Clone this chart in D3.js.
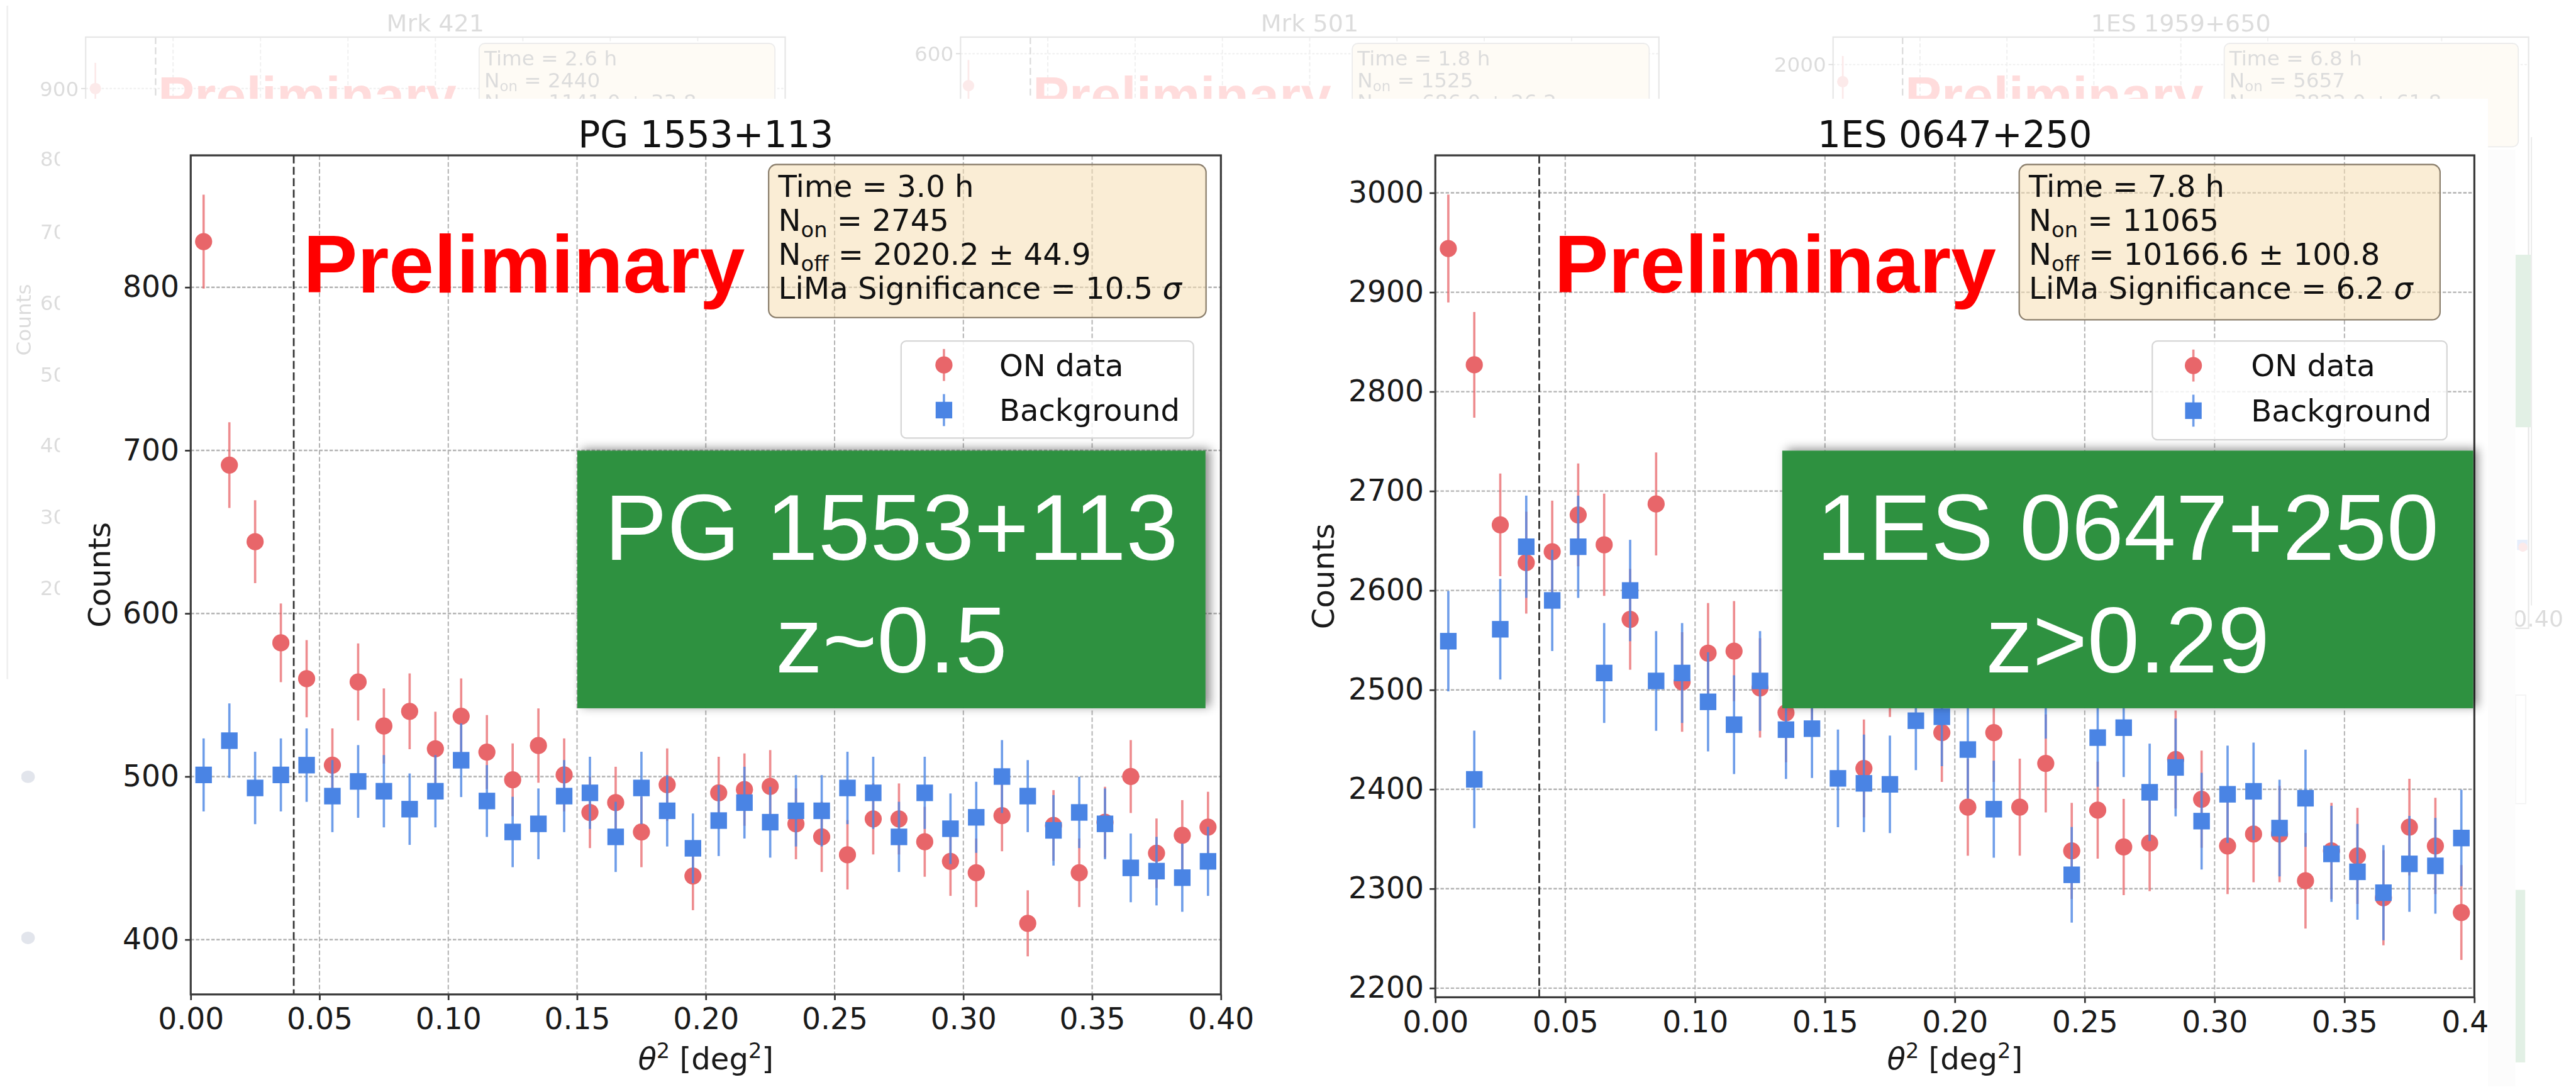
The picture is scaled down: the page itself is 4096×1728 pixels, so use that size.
<!DOCTYPE html>
<html><head><meta charset="utf-8">
<script src="https://cdn.jsdelivr.net/npm/d3@7"></script>
<style>html,body{margin:0;padding:0;background:#fff;overflow:hidden}</style>
</head><body>
<svg id="chart" width="4096" height="1728"></svg>
<script>
// ---------------- data ----------------
const thetaBins = [0.005,0.015,0.025,0.035,0.045,0.055,0.065,0.075,0.085,0.095,0.105,0.115,0.125,0.135,0.145,0.155,0.165,0.175,0.185,0.195,0.205,0.215,0.225,0.235,0.245,0.255,0.265,0.275,0.285,0.295,0.305,0.315,0.325,0.335,0.345,0.355,0.365,0.375,0.385,0.395];
const xTickValues = [0,0.05,0.10,0.15,0.20,0.25,0.30,0.35,0.40];
const pgYTicks = [400,500,600,700,800];
const esYTicks = [2200,2300,2400,2500,2600,2700,2800,2900,3000];

const pgOn  = [828,691,644,582,560,507,558,531,540,517,537,515,498,519,501,478,484,466,495,439,490,492,494,471,463,452,474,474,460,448,441,476,410,470,441,472,500,453,464,469];
const pgOff = [501,522,493,501,507,488,497,491,480,491,510,485,466,471,488,490,463,493,479,456,473,484,472,479,479,493,490,463,490,468,475,500,488,467,478,471,444,442,438,448];
const esOn  = [2944,2827,2666,2628,2639,2676,2646,2571,2687,2508,2537,2539,2502,2477,2520,2545,2421,2523,2540,2457,2382,2457,2382,2426,2338,2379,2342,2346,2430,2390,2343,2355,2355,2308,2338,2333,2291,2362,2343,2276];
const esOff = [2549,2410,2561,2644,2590,2644,2517,2600,2509,2517,2488,2465,2509,2460,2461,2411,2406,2405,2469,2473,2440,2380,2540,2501,2314,2452,2462,2397,2422,2368,2395,2398,2361,2391,2335,2317,2296,2325,2323,2351];

const pgTitle = "PG 1553+113";
const esTitle = "1ES 0647+250";
const pgInfo = ["Time = 3.0 h","N_on = 2745","N_off = 2020.2 ± 44.9","LiMa Significance = 10.5 σ"];
const esInfo = ["Time = 7.8 h","N_on = 11065","N_off = 10166.6 ± 100.8","LiMa Significance = 6.2 σ"];
const pgBadge = ["PG 1553+113","z~0.5"];
const esBadge = ["1ES 0647+250","z>0.29"];
const legendLabels = ["ON data","Background"];

const fadedTitles = ["Mrk 421","Mrk 501","1ES 1959+650"];
const fadedTickLabels = ["900","600","2000"];
const fadedInfo = [
  ["Time = 2.6 h","N_on = 2440","N_off = 1141.0 ± 33.8"],
  ["Time = 1.8 h","N_on = 1525","N_off = 686.0 ± 26.2"],
  ["Time = 6.8 h","N_on = 5657","N_off = 3822.0 ± 61.8"]
];
const fadedLeftTicks = ["800","700","600","500","400","300","200"];

// ---------------- layout (reference pixels) ----------------
const S = 0.908;
const RED = "#e8666a", BLUE = "#4a84e4", GREEN = "#2f9140";
const MPL = "DejaVu Sans, sans-serif";
const HELV = "Liberation Sans, Arial, sans-serif";

const pgLayout = {x0:334,x1:2138,y0:272,y1:1741,yDomain:[366.4,880.9],yTicks:pgYTicks,ylabelX:193,
  info:[1346,288,2112,556],infoTextX:1363,legend:[1578,597,2090,767],legMarkX:1653,legTextX:1750,legRows:[639,718],
  prelimX:531,green:[1011,789,2111,1240]};
const esLayout = {x0:2513.5,x1:4333,y0:272,y1:1746,yDomain:[2190.8,3037.7],yTicks:esYTicks,ylabelX:2336,
  info:[3536,288,4273,560],infoTextX:3553,legend:[3769,597,4285,770],legMarkX:3841,legTextX:3942,legRows:[640,719],
  prelimX:2722,green:[3121,789,4331,1240]};
const fadedLayout = [
  {x0:150,x1:1375,tickY:155,box:[839,1357],pt:[167,155]},
  {x0:1682,x1:2905,tickY:94,box:[2368,2888],pt:[1696,150]},
  {x0:3210,x1:4428,tickY:113,box:[3895,4410],pt:[3227,143]}
];
const fadedLeftY = [278,405,530,655,779,904,1029];

// ---------------- helpers ----------------
function richText(t, str, fs) {
  const m = str.match(/^N_(\w+)(.*)$/);
  if (m) {
    t.append("tspan").text("N");
    t.append("tspan").attr("font-size", fs*0.7).attr("dy", fs*0.2).text(m[1]);
    t.append("tspan").attr("dy", -fs*0.2).text(m[2]);
  } else if (str.endsWith("σ")) {
    t.append("tspan").text(str.slice(0,-1));
    t.append("tspan").attr("font-style","italic").text("σ");
  } else {
    t.text(str);
  }
}

const svg = d3.select("#chart");
const defs = svg.append("defs");
const f = defs.append("filter").attr("id","shadow").attr("x","-10%").attr("y","-20%").attr("width","125%").attr("height","145%");
f.append("feDropShadow").attr("dx",8).attr("dy",-3).attr("stdDeviation",9).attr("flood-color","#000").attr("flood-opacity",0.45);
defs.append("clipPath").attr("id","mainclip").append("rect").attr("x",105).attr("y",173).attr("width",4357-105).attr("height",1902-173);

svg.append("rect").attr("width",4096).attr("height",1728).attr("fill","#fff");
const root = svg.append("g").attr("transform",`scale(${S})`);

// ---------------- faded slide background ----------------
const fg = root.append("g").attr("opacity",0.14);
fg.append("line").attr("x1",13).attr("x2",13).attr("y1",10).attr("y2",1189).attr("stroke","#888").attr("stroke-width",3);
fadedLayout.forEach((p,i) => {
  const w = p.x1 - p.x0;
  fg.append("text").attr("x",(p.x0+p.x1)/2).attr("y",55).attr("text-anchor","middle")
    .attr("font-family",MPL).attr("font-size",42).attr("fill","#000").text(fadedTitles[i]);
  for (let k=1;k<8;k++) {
    fg.append("line").attr("x1",p.x0+k*w/8).attr("x2",p.x0+k*w/8).attr("y1",65).attr("y2",1100)
      .attr("stroke","#888").attr("stroke-width",2).attr("stroke-dasharray","7,4");
  }
  fg.append("line").attr("x1",p.x0).attr("x2",p.x1).attr("y1",p.tickY).attr("y2",p.tickY)
    .attr("stroke","#888").attr("stroke-width",2).attr("stroke-dasharray","4,3");
  fg.append("line").attr("x1",p.x0+w*0.1).attr("x2",p.x0+w*0.1).attr("y1",65).attr("y2",1100)
    .attr("stroke","#000").attr("stroke-width",2.5).attr("stroke-dasharray","12,6");
  fg.append("rect").attr("x",p.x0).attr("y",65).attr("width",w).attr("height",1035)
    .attr("fill","none").attr("stroke","#555").attr("stroke-width",2.5);
  fg.append("line").attr("x1",p.x0-8).attr("x2",p.x0).attr("y1",p.tickY).attr("y2",p.tickY).attr("stroke","#000").attr("stroke-width",2);
  fg.append("text").attr("x",p.x0-12).attr("y",p.tickY).attr("dy","0.36em").attr("text-anchor","end")
    .attr("font-family",MPL).attr("font-size",36).attr("fill","#000").text(fadedTickLabels[i]);
  fg.append("line").attr("x1",p.pt[0]).attr("x2",p.pt[0]).attr("y1",p.pt[1]-45).attr("y2",p.pt[1]+45).attr("stroke",RED).attr("stroke-width",3);
  fg.append("circle").attr("cx",p.pt[0]).attr("cy",p.pt[1]).attr("r",10).attr("fill",RED);
  fg.append("text").attr("x",p.x0+w*0.1+4).attr("y",202).attr("font-family",HELV).attr("font-weight","bold")
    .attr("font-size",96).attr("fill","#ff0000").text("Preliminary");
  fg.append("rect").attr("x",p.box[0]).attr("y",76).attr("width",p.box[1]-p.box[0]).attr("height",181).attr("rx",10)
    .attr("fill","#F5DEB3").attr("stroke","#777").attr("stroke-width",2);
  fadedInfo[i].forEach((s,j) => {
    const t = fg.append("text").attr("x",p.box[0]+9).attr("y",115+j*38).attr("font-family",MPL).attr("font-size",36).attr("fill","#000");
    richText(t,s,36);
  });
});
fadedLeftTicks.forEach((s,i) => {
  fg.append("text").attr("x",139).attr("y",fadedLeftY[i]).attr("dy","0.36em").attr("text-anchor","end")
    .attr("font-family",MPL).attr("font-size",36).attr("fill","#000").text(s);
});
fg.append("text").attr("transform","translate(54,560) rotate(-90)").attr("text-anchor","middle")
  .attr("font-family",MPL).attr("font-size",36).attr("fill","#000").text("Counts");
// right edge faded content
fg.append("rect").attr("x",4405).attr("y",446).attr("width",27).attr("height",302).attr("fill",GREEN);
fg.append("rect").attr("x",4405).attr("y",1558).attr("width",17).attr("height",302).attr("fill",GREEN);
fg.append("line").attr("x1",4433).attr("x2",4433).attr("y1",240).attr("y2",1060).attr("stroke","#666").attr("stroke-width",2);
fg.append("text").attr("x",4400).attr("y",1097).attr("font-family",MPL).attr("font-size",40).attr("fill","#000").text("0.40");
fg.append("rect").attr("x",4408).attr("y",945).attr("width",18).attr("height",18).attr("fill",BLUE);
fg.append("circle").attr("cx",4418).attr("cy",958).attr("r",8).attr("fill",RED);
fg.append("rect").attr("x",4405).attr("y",1217).attr("width",18).attr("height",190).attr("fill","none").attr("stroke","#aaa").attr("stroke-width",2);

// slide bullets at left
[1360,1642].forEach(yy => root.append("ellipse").attr("cx",49).attr("cy",yy).attr("rx",12).attr("ry",11).attr("fill","#e2e5ec"));

// white overlays holding the two main charts
root.append("rect").attr("x",4357).attr("y",262).attr("width",48).attr("height",1640).attr("fill","#fcfcfc");
root.append("rect").attr("x",105).attr("y",173).attr("width",4357-105).attr("height",1902-173).attr("fill","#fff");

// ---------------- main panels ----------------
const main = root.append("g").attr("clip-path","url(#mainclip)");

function drawPanel(L, on, off, title, info, badge) {
  const x = d3.scaleLinear().domain([0,0.4]).range([L.x0,L.x1]);
  const y = d3.scaleLinear().domain(L.yDomain).range([L.y1,L.y0]);
  const g = main.append("g");

  // grid
  g.append("g").selectAll("line").data(xTickValues).join("line")
    .attr("x1",d=>x(d)).attr("x2",d=>x(d)).attr("y1",L.y0).attr("y2",L.y1)
    .attr("stroke","#b3b3b3").attr("stroke-width",2.2).attr("stroke-dasharray","8,4");
  g.append("g").selectAll("line").data(L.yTicks).join("line")
    .attr("x1",L.x0).attr("x2",L.x1).attr("y1",d=>y(d)).attr("y2",d=>y(d))
    .attr("stroke","#b3b3b3").attr("stroke-width",2.6).attr("stroke-dasharray","6,3");

  // theta^2 cut
  g.append("line").attr("x1",x(0.04)).attr("x2",x(0.04)).attr("y1",L.y0).attr("y2",L.y1)
    .attr("stroke","#333").attr("stroke-width",3).attr("stroke-dasharray","14,6");

  const onD = thetaBins.map((t,i)=>({t, v:on[i]}));
  const offD = thetaBins.map((t,i)=>({t, v:off[i]}));
  // ON data
  g.append("g").selectAll("line").data(onD).join("line")
    .attr("x1",d=>x(d.t)).attr("x2",d=>x(d.t))
    .attr("y1",d=>y(d.v-Math.sqrt(d.v))).attr("y2",d=>y(d.v+Math.sqrt(d.v)))
    .attr("stroke",RED).attr("stroke-width",4).attr("stroke-opacity",0.75);
  g.append("g").selectAll("circle").data(onD).join("circle")
    .attr("cx",d=>x(d.t)).attr("cy",d=>y(d.v)).attr("r",15).attr("fill",RED);
  // Background
  g.append("g").selectAll("line").data(offD).join("line")
    .attr("x1",d=>x(d.t)).attr("x2",d=>x(d.t))
    .attr("y1",d=>y(d.v-Math.sqrt(d.v))).attr("y2",d=>y(d.v+Math.sqrt(d.v)))
    .attr("stroke",BLUE).attr("stroke-width",4).attr("stroke-opacity",0.8);
  g.append("g").selectAll("rect").data(offD).join("rect")
    .attr("x",d=>x(d.t)-14.5).attr("y",d=>y(d.v)-14.5).attr("width",29).attr("height",29).attr("fill",BLUE);

  // axes
  const styleAxis = s => {
    s.select(".domain").remove();
    s.selectAll(".tick line").attr("stroke","#333").attr("stroke-width",3);
    s.selectAll(".tick text").attr("font-size",52).attr("font-family",MPL).attr("fill","#1a1a1a");
  };
  g.append("g").attr("transform",`translate(0,${L.y1})`)
    .call(d3.axisBottom(x).tickValues(xTickValues).tickFormat(d3.format(".2f")).tickSize(10).tickPadding(14))
    .call(styleAxis);
  g.append("g").attr("transform",`translate(${L.x0},0)`)
    .call(d3.axisLeft(y).tickValues(L.yTicks).tickFormat(d3.format("d")).tickSize(10).tickPadding(10))
    .call(styleAxis);
  g.append("rect").attr("x",L.x0).attr("y",L.y0).attr("width",L.x1-L.x0).attr("height",L.y1-L.y0)
    .attr("fill","none").attr("stroke","#3a3a3a").attr("stroke-width",3.5);

  // titles & labels
  const cx = (L.x0+L.x1)/2;
  g.append("text").attr("x",cx).attr("y",258).attr("text-anchor","middle")
    .attr("font-family",MPL).attr("font-size",64).attr("fill","#111").text(title);
  const xl = g.append("text").attr("x",cx).attr("y",1872).attr("text-anchor","middle")
    .attr("font-family",MPL).attr("font-size",53).attr("fill","#1a1a1a");
  xl.append("tspan").attr("font-style","italic").text("θ");
  xl.append("tspan").attr("font-size",37).attr("dy",-20).text("2");
  xl.append("tspan").attr("dy",20).text(" [deg");
  xl.append("tspan").attr("font-size",37).attr("dy",-20).text("2");
  xl.append("tspan").attr("dy",20).text("]");
  g.append("text").attr("transform",`translate(${L.ylabelX},${(L.y0+L.y1)/2}) rotate(-90)`).attr("text-anchor","middle")
    .attr("font-family",MPL).attr("font-size",53).attr("fill","#1a1a1a").text("Counts");

  // info box
  const [bx0,by0,bx1,by1] = L.info;
  g.append("rect").attr("x",bx0).attr("y",by0).attr("width",bx1-bx0).attr("height",by1-by0).attr("rx",14)
    .attr("fill","#F5DEB3").attr("fill-opacity",0.55).attr("stroke","#8c806e").attr("stroke-width",2.5);
  info.forEach((s,j) => {
    const t = g.append("text").attr("x",L.infoTextX).attr("y",345+j*59.5)
      .attr("font-family",MPL).attr("font-size",53).attr("fill","#111");
    richText(t,s,53);
  });

  // legend
  const [lx0,ly0,lx1,ly1] = L.legend;
  g.append("rect").attr("x",lx0).attr("y",ly0).attr("width",lx1-lx0).attr("height",ly1-ly0).attr("rx",9)
    .attr("fill","#fff").attr("fill-opacity",0.82).attr("stroke","#d6d6d6").attr("stroke-width",2.5);
  const r0 = L.legRows[0], r1 = L.legRows[1];
  g.append("line").attr("x1",L.legMarkX).attr("x2",L.legMarkX).attr("y1",r0-28).attr("y2",r0+28)
    .attr("stroke",RED).attr("stroke-width",4).attr("stroke-opacity",0.75);
  g.append("circle").attr("cx",L.legMarkX).attr("cy",r0).attr("r",15).attr("fill",RED);
  g.append("line").attr("x1",L.legMarkX).attr("x2",L.legMarkX).attr("y1",r1-28).attr("y2",r1+28)
    .attr("stroke",BLUE).attr("stroke-width",4).attr("stroke-opacity",0.8);
  g.append("rect").attr("x",L.legMarkX-14.5).attr("y",r1-14.5).attr("width",29).attr("height",29).attr("fill",BLUE);
  [r0,r1].forEach((ry,j) => g.append("text").attr("x",L.legTextX).attr("y",ry).attr("dy","0.36em")
    .attr("font-family",MPL).attr("font-size",53).attr("fill","#111").text(legendLabels[j]));

  // Preliminary
  g.append("text").attr("x",L.prelimX).attr("y",512).attr("font-family",HELV).attr("font-weight","bold")
    .attr("font-size",142).attr("fill","#ff0000").text("Preliminary");

  // green badge
  const [gx0,gy0,gx1,gy1] = L.green;
  g.append("rect").attr("x",gx0).attr("y",gy0).attr("width",gx1-gx0).attr("height",gy1-gy0)
    .attr("fill",GREEN).attr("filter","url(#shadow)");
  badge.forEach((s,j) => g.append("text").attr("x",(gx0+gx1)/2).attr("y",980+j*197).attr("text-anchor","middle")
    .attr("font-family",HELV).attr("font-size",164).attr("fill","#ffffff").text(s));
}

drawPanel(pgLayout, pgOn, pgOff, pgTitle, pgInfo, pgBadge);
drawPanel(esLayout, esOn, esOff, esTitle, esInfo, esBadge);
</script>
</body></html>
